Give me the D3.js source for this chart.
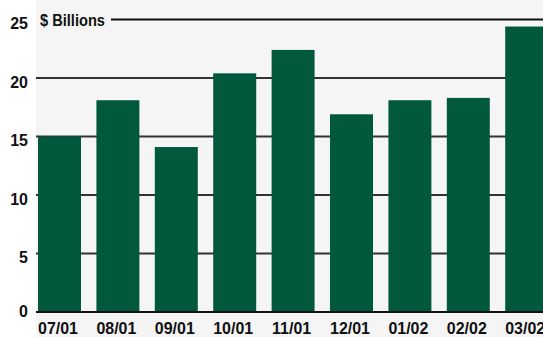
<!DOCTYPE html>
<html><head><meta charset="utf-8">
<script src="https://cdn.jsdelivr.net/npm/d3@7"></script>
<style>
html,body{margin:0;padding:0;background:#fff;}
svg{display:block;}
text{font-family:"Liberation Sans",Arial,sans-serif;font-weight:bold;fill:#111;}
</style></head>
<body>
<script>
const categories = ["07/01","08/01","09/01","10/01","11/01","12/01","01/02","02/02","03/02"];
const values = [15.0, 18.1, 14.1, 20.4, 22.4, 16.9, 18.1, 18.3, 24.4];
const yTicks = [0, 5, 10, 15, 20, 25];
const unitLabel = "$ Billions";

const W = 543, H = 337;
const svg = d3.select("body").append("svg").attr("width", W).attr("height", H);

const plotLeft = 36;
const y = d3.scaleLinear().domain([0, 25]).range([312, 19.5]);
const x = d3.scaleBand().domain(categories).range([30.3, 555.9])
  .paddingInner(0.264).paddingOuter(0.132).align(0.5);

// plot background
svg.append("rect").attr("x", plotLeft).attr("y", 0).attr("width", W - plotLeft).attr("height", H).attr("fill", "#f5f5f5");

// gridlines
svg.append("g").selectAll("line").data(yTicks.filter(d => d > 0)).join("line")
  .attr("x1", d => d === 25 ? 111 : plotLeft).attr("x2", W)
  .attr("y1", d => y(d)).attr("y2", d => y(d))
  .attr("stroke", d => d === 25 ? "#111" : "#333").attr("stroke-width", 2);

// bars
svg.append("g").selectAll("rect").data(values).join("rect")
  .attr("x", (d, i) => x(categories[i]))
  .attr("width", x.bandwidth())
  .attr("y", d => y(d))
  .attr("height", d => y(0) - y(d))
  .attr("fill", "#00593d");

// baseline
svg.append("line").attr("x1", plotLeft).attr("x2", W).attr("y1", y(0)).attr("y2", y(0))
  .attr("stroke", "#111").attr("stroke-width", 2);

// y tick labels
svg.append("g").selectAll("text").data(yTicks).join("text")
  .attr("transform", d => `translate(28,${y(d) + (d === 0 ? 5 : 9.5)}) scale(0.94,1)`)
  .attr("text-anchor", "end").attr("font-size", 17)
  .text(d => d);

// unit label
svg.append("text").attr("transform", "translate(40,26) scale(0.86,1)").attr("font-size", 17).text(unitLabel);

// x labels
svg.append("g").selectAll("text").data(categories).join("text")
  .attr("transform", d => `translate(${x(d) + x.bandwidth() / 2 - 1.5},334) scale(0.94,1)`)
  .attr("text-anchor", "middle").attr("font-size", 17)
  .text(d => d);
</script>
</body></html>
